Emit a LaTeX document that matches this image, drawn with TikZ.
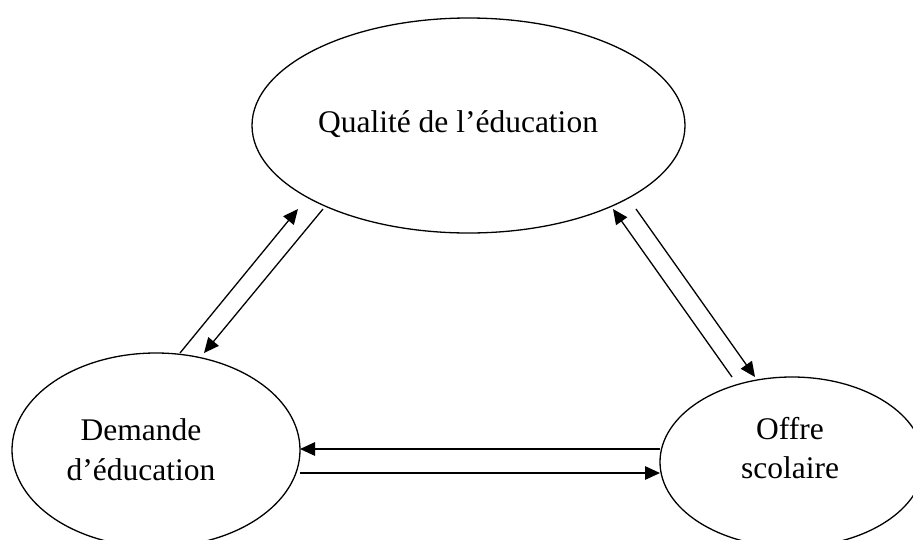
\documentclass[tikz,border=0pt]{standalone}
\usepackage{fontspec}
\setmainfont{Liberation Serif}
\usetikzlibrary{shapes.geometric,arrows.meta}
\begin{document}
\begin{tikzpicture}[x=1pt,y=-1pt,
  oval/.style={draw,ellipse,line width=1.3pt,inner sep=0pt},
  lbl/.style={anchor=base,inner sep=0pt,font=\fontsize{31.5}{40}\selectfont},
  link/.style={line width=1.3pt,-{Triangle[length=15pt,width=13.5pt]}}]
\useasboundingbox (0,0) rectangle (913,539);
\clip (0,0) rectangle (913,539);
\node[oval,minimum width=433pt,minimum height=215pt] (Q) at (468.5,125.5) {};
\node[oval,minimum width=288pt,minimum height=194pt] (D) at (156,450) {};
\node[oval,minimum width=264pt,minimum height=170pt] (O) at (792,462) {};
\node[lbl] (qt) at (458,132) {Qualité de l’éducation};
\node[lbl] (d1) at (141,440) {Demande};
\node[lbl] (d2) at (141,480) {d’éducation};
\node[lbl] (o1) at (790,439) {Offre};
\node[lbl] (o2) at (790,478) {scolaire};
\coordinate (a1s) at (180,353); \coordinate (a1e) at (298,209);
\coordinate (a2s) at (323,209); \coordinate (a2e) at (204,353);
\coordinate (a3s) at (732,377); \coordinate (a3e) at (613,209);
\coordinate (a4s) at (636,209); \coordinate (a4e) at (755,377);
\coordinate (a5s) at (660,449); \coordinate (a5e) at (300,449);
\coordinate (a6s) at (300,473); \coordinate (a6e) at (660,473);
\draw[link] (a1s) -- (a1e);
\draw[link] (a2s) -- (a2e);
\draw[link] (a3s) -- (a3e);
\draw[link] (a4s) -- (a4e);
\draw[link] (a5s) -- (a5e);
\draw[link] (a6s) -- (a6e);
\end{tikzpicture}
\end{document}
